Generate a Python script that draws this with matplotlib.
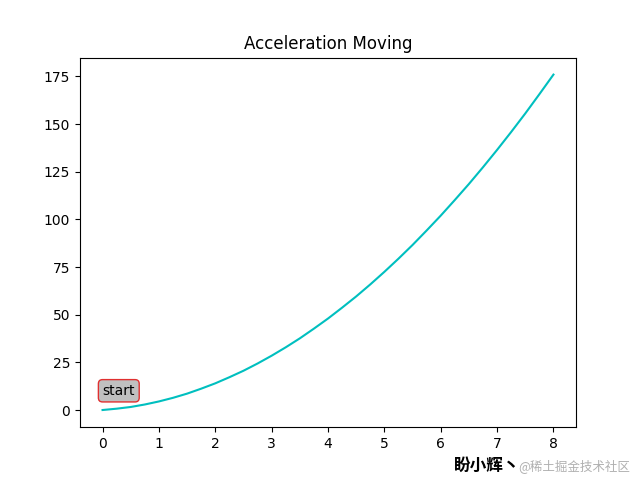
import matplotlib.pyplot as plt

# time (s) and distance
t = [0, 0.25, 0.5, 0.75, 1, 1.25, 1.5, 1.75, 2, 2.25, 2.5, 2.75, 3, 3.25,
     3.5, 3.75, 4, 4.25, 4.5, 4.75, 5, 5.25, 5.5, 5.75, 6, 6.25, 6.5,
     6.75, 7, 7.25, 7.5, 7.75, 8]
dist = [0, 0.7, 1.6, 2.9, 4.5, 6.4, 8.6, 11.2, 14, 17.2, 20.6, 24.4,
        28.5, 32.9, 37.6, 42.7, 48, 53.7, 59.6, 65.9, 72.5, 79.4, 86.6,
        94.2, 102, 110.2, 118.6, 127.4, 136.5, 145.9, 155.6, 165.7, 176]

fig = plt.figure(figsize=(6.4, 4.9), dpi=100)
plt.subplots_adjust(left=0.125, right=0.9, bottom=0.129, top=0.882)

plt.plot(t, dist, 'c')
plt.title('Acceleration Moving')
plt.text(0, 8, 'start', bbox=dict(boxstyle='round', fc='silver', ec='#e03030'))

# watermark
fig.text(0.71, 0.04, '盼小辉丶', fontsize=12, fontweight='bold',
         family=['Noto Sans CJK SC', 'DejaVu Sans'])
fig.text(0.81, 0.04, '@稀土掘金技术社区', fontsize=9, color='#b0b0b0',
         family=['Noto Sans CJK SC', 'DejaVu Sans'])

plt.savefig('out.png')
